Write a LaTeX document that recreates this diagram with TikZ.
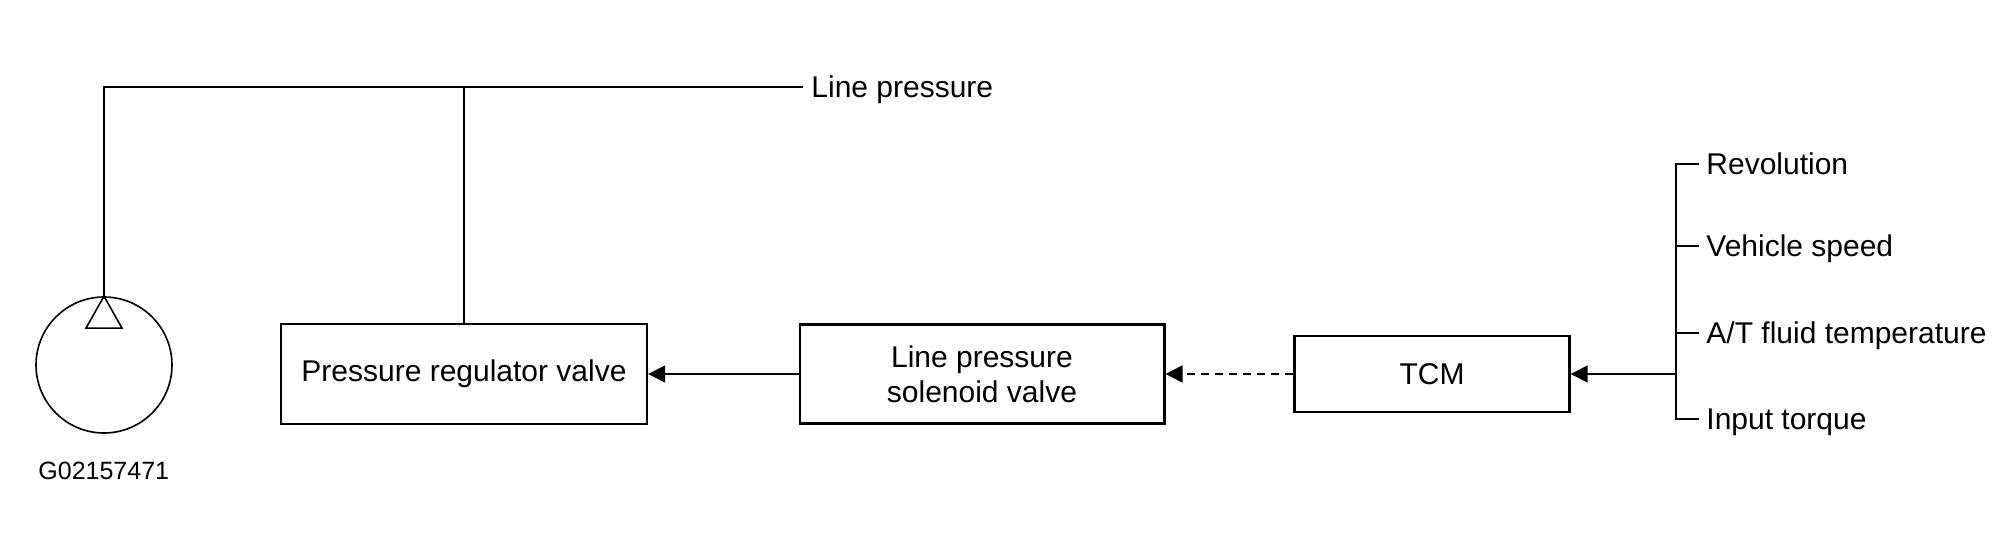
\documentclass[tikz,border=0pt]{standalone}
\usepackage{fontspec}
\setmainfont{Liberation Sans}
\usetikzlibrary{arrows.meta}
\begin{document}
\begin{tikzpicture}[x=0.5pt,y=-0.5pt,
  box/.style={draw, line width=1.2pt, align=center, inner sep=0pt, font=\fontsize{15}{17.5}\selectfont},
  wire/.style={line width=0.8pt},
  arr/.style={wire, -{Triangle[length=8.5pt,width=8.5pt]}},
  lbl/.style={anchor=west, inner xsep=3.5pt, inner ysep=0pt, text height=10.7pt, text depth=0pt, font=\fontsize{15}{17.5}\selectfont}]
\useasboundingbox (0,0) rectangle (2006,555);
% pump
\node[draw, circle, wire, minimum size=68pt, inner sep=0pt] (pump) at (104,365) {};
\draw[wire] (pump.north) -- ++(-18,32) -- ++(36,0) -- cycle;
\node[anchor=west, inner sep=0pt, font=\fontsize{12.5}{15}\selectfont] (code) at (38,471) {G02157471};
% boxes
\node[box, minimum width=183pt, minimum height=50pt] (prv) at (464,374) {Pressure regulator valve};
\node[box, minimum width=182.3pt, minimum height=49.4pt] (lpsv) at (982,374) {Line pressure\\solenoid valve};
\node[box, minimum width=137.5pt, minimum height=37.8pt] (tcm) at (1432,374) {TCM};
% line pressure
\node[lbl, inner xsep=4pt] (lp) at (803,87) {Line pressure};
\draw[wire] (pump.north) |- (lp.west);
\draw[wire] (prv.north) -- (prv.north |- lp.west);
% arrows
\draw[arr] (lpsv.west) -- (prv.east);
\draw[arr, dash pattern=on 4pt off 3pt] (tcm.west) -- (lpsv.east);
% inputs
\node[lbl] (rev) at (1699,164) {Revolution};
\node[lbl] (veh) at (1699,246) {Vehicle speed};
\node[lbl] (atf) at (1699,333) {A/T fluid temperature};
\node[lbl] (tq) at (1699,419) {Input torque};
\coordinate (bt) at (1676,164);
\coordinate (bb) at (1676,419);
\draw[wire] (rev.west) -- (bt) -- (bb) -- (tq.west);
\draw[wire] (veh.west) -- (veh.west -| bt);
\draw[wire] (atf.west) -- (atf.west -| bt);
\draw[arr] (bt |- tcm.east) -- (tcm.east);
\end{tikzpicture}
\end{document}
